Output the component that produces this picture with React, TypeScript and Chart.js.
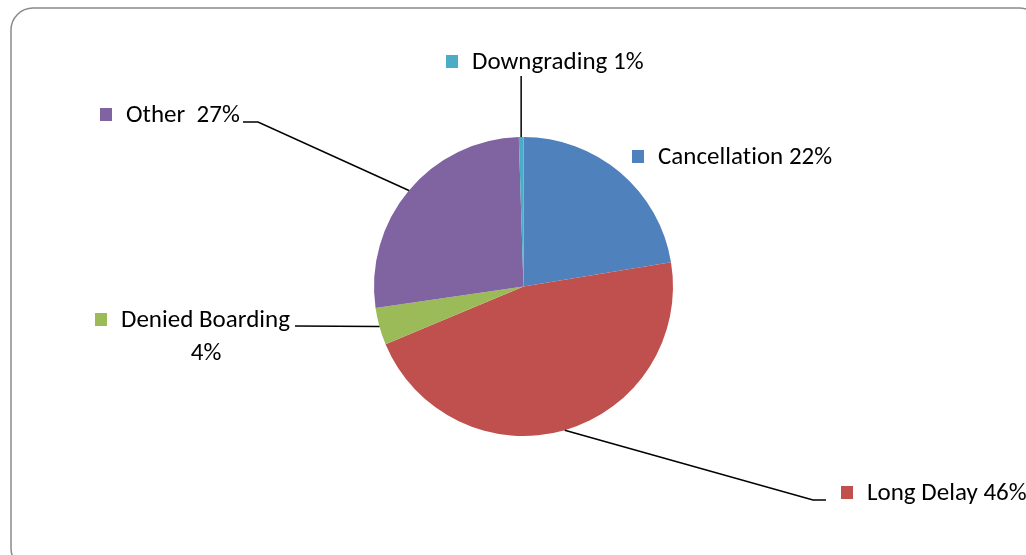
import React, { useEffect, useRef } from "react";
import { Chart, registerables } from "chart.js";

Chart.register(...registerables);

const categories = ["Cancellation", "Long Delay", "Denied Boarding", "Other", "Downgrading"];
const values = [22.4, 46.3, 4.0, 26.8, 0.5];
const pctLabels = ["22%", "46%", "4%", "27%", "1%"];
const colors = ["#4F81BD", "#C0504D", "#9BBB59", "#8064A2", "#4BACC6"];

const FONT = "25px Calibri, Carlito, 'Open Sans', sans-serif";

const labelPlugin = {
  id: "leaderLabels",
  afterDraw(chart: any) {
    const ctx = chart.ctx;
    const meta = chart.getDatasetMeta(0);
    const anchor = (i: number) => {
      const a: any = meta.data[i];
      const mid = (a.startAngle + a.endAngle) / 2;
      return { x: a.x + a.outerRadius * Math.cos(mid), y: a.y + a.outerRadius * Math.sin(mid) };
    };
    ctx.save();
    ctx.font = FONT;
    try { (ctx as any).letterSpacing = "0.01px"; } catch (e) {}
    ctx.textBaseline = "alphabetic";
    ctx.fillStyle = "#000";

    const item = (i: number, sx: number, cy: number, text: string) => {
      ctx.fillStyle = colors[i];
      ctx.fillRect(sx, cy - 6, 12, 13);
      ctx.fillStyle = "#000";
      ctx.textAlign = "left";
      ctx.fillText(text, sx + 26, cy + 8);
    };

    item(4, 446, 61, categories[4] + " " + pctLabels[4]);
    item(0, 632, 156, categories[0] + " " + pctLabels[0]);
    item(1, 841, 492, categories[1] + " " + pctLabels[1]);
    item(2, 95, 319, categories[2]);
    ctx.textAlign = "center";
    ctx.fillText(pctLabels[2], 206, 360);
    item(3, 100, 114, categories[3] + "  " + pctLabels[3]);

    ctx.strokeStyle = "#000";
    ctx.lineWidth = 1.5;
    // Downgrading
    let p = anchor(4);
    ctx.beginPath();
    ctx.moveTo(p.x, 76);
    ctx.lineTo(p.x, p.y);
    ctx.stroke();
    // Other
    p = anchor(3);
    ctx.beginPath();
    ctx.moveTo(243, 122);
    ctx.lineTo(258, 122);
    ctx.lineTo(p.x, p.y);
    ctx.stroke();
    // Denied Boarding
    p = anchor(2);
    ctx.beginPath();
    ctx.moveTo(295, 326);
    ctx.lineTo(p.x, p.y);
    ctx.stroke();
    // Long Delay
    p = anchor(1);
    ctx.beginPath();
    ctx.moveTo(p.x, p.y);
    ctx.lineTo(813, 500);
    ctx.lineTo(826, 500);
    ctx.stroke();

    // Frame
    ctx.strokeStyle = "#8a8a8a";
    ctx.lineWidth = 1.5;
    ctx.beginPath();
    ctx.roundRect(11, 8, 1030, 562, 22);
    ctx.stroke();
    ctx.restore();
  },
};

export default function App() {
  const ref = useRef<HTMLCanvasElement | null>(null);
  useEffect(() => {
    if (!ref.current) return;
    const chart = new Chart(ref.current, {
      type: "pie",
      data: {
        labels: categories,
        datasets: [
          {
            data: values,
            backgroundColor: colors,
            borderWidth: 0,
          },
        ],
      },
      options: {
        responsive: false,
        animation: false,
        layout: { padding: { top: 137, bottom: 119, left: 374, right: 353 } },
        plugins: { legend: { display: false }, tooltip: { enabled: false } },
      },
      plugins: [labelPlugin],
    });
    return () => chart.destroy();
  }, []);
  return (
    <div style={{ position: "fixed", left: 0, top: 0, width: 1026, height: 555, background: "#fff" }}>
      <canvas ref={ref} width={1026} height={555} />
    </div>
  );
}
